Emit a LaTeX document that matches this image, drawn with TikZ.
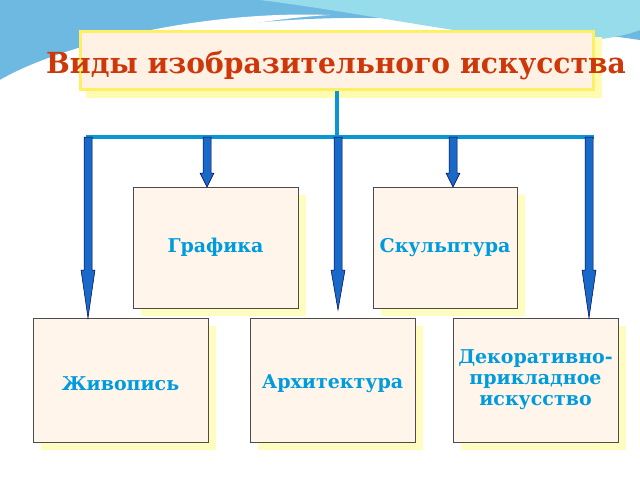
\documentclass[tikz,border=0pt]{standalone}
\usepackage{fontspec}
\setmainfont{DejaVu Serif}
\definecolor{arrc}{RGB}{25,105,200}
\definecolor{linkc}{RGB}{10,150,210}
\definecolor{txtc}{RGB}{0,155,220}
\definecolor{ttl}{RGB}{205,55,10}
\definecolor{wave1}{RGB}{110,185,225}
\definecolor{wave2}{RGB}{150,220,235}
\begin{document}
\begin{tikzpicture}[x=1pt,y=-1pt,
  box/.style={draw=black!70,line width=0.8pt,fill=orange!8,minimum width=#1,inner sep=0pt,font=\bfseries\fontsize{19}{21}\selectfont,text=txtc,align=center},
  arr/.style={draw=blue!30!black,fill=arrc,line width=0.5pt},
  link/.style={draw=linkc,line width=3.5pt}]
\useasboundingbox (0,0) rectangle (640,480);
\fill[white] (0,0) rectangle (640,480);
% background waves
\fill[wave1] (0,0) -- (640,0) -- (640,40) .. controls (500,20) and (300,0) .. (120,45) .. controls (60,60) and (20,70) .. (0,80) -- cycle;
\fill[wave2] (260,0) -- (640,0) -- (640,30) .. controls (560,60) and (420,20) .. (260,0) -- cycle;
\fill[white] (0,80) .. controls (60,45) and (200,10) .. (330,15) .. controls (240,20) and (100,50) .. (0,90) -- cycle;
% title
\fill[yellow!30] (86,37) rectangle (602,98);
\node[draw=yellow!90!orange!60,line width=3pt,fill=orange!10,minimum width=513pt,minimum height=58pt] (t) at (336.5,60) {};
\node[font=\bfseries\fontsize{29}{32}\selectfont,text=ttl,xscale=0.97] (tt) at (336,65) {Виды изобразительного искусства};
% connectors
\coordinate (j) at (337,137);
\coordinate (l) at (86,137);
\coordinate (r) at (594,137);
\draw[link] (t.south -| j) -- (j);
\draw[link] (l) -- (r);
% shadows
\foreach \a/\b/\c/\d in {133/187/298/308,373/187/517/308,33/318/208/442,250/318/415/442,453/318/618/442}
  \fill[yellow!25] (\a+8,\b+8) rectangle (\c+8,\d+8);
% boxes
\node[box=165pt,minimum height=121pt] (g) at (215.5,247.5) {Графика};
\node[box=144pt,minimum height=121pt] (s) at (445,247.5) {Скульптура};
\node[box=175pt,minimum height=124pt] (z) at (120.5,380) {\raisebox{0pt}[0pt][0pt]{}\\Живопись};
\node[box=165pt,minimum height=124pt] (a) at (332.5,380) {\\Архитектура};
\node[box=165pt,minimum height=124pt] (d) at (535.5,380) {Декоративно-\\прикладное\\искусство};
% block arrows
\foreach \x/\ye/\h in {88/318/48,207/187/14,338/310/40,453/187/14,589/318/48}{
  \draw[arr] (\x-4,137) -- (\x+4,137) -- (\x+4,\ye-\h) -- (\x+7,\ye-\h) -- (\x,\ye) -- (\x-7,\ye-\h) -- (\x-4,\ye-\h) -- cycle;}
\end{tikzpicture}
\end{document}
